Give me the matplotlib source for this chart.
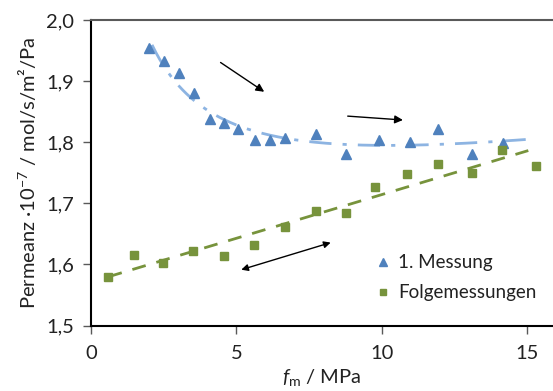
import numpy as np
import matplotlib
matplotlib.use("Agg")
import matplotlib.pyplot as plt
from matplotlib.ticker import FuncFormatter

plt.rcParams['font.family'] = ['Lato', 'DejaVu Sans']
plt.rcParams['mathtext.fontset'] = 'custom'
plt.rcParams['mathtext.it'] = 'Lato:italic'
plt.rcParams['mathtext.rm'] = 'Lato'

# 1. Messung
x1 = [2.00, 2.52, 3.03, 3.53, 4.09, 4.59, 5.06, 5.64, 6.16, 6.66, 7.74, 8.79, 9.90, 10.98, 11.93, 13.12, 14.18]
y1 = [1.954, 1.933, 1.914, 1.881, 1.838, 1.831, 1.822, 1.804, 1.804, 1.807, 1.814, 1.781, 1.804, 1.800, 1.822, 1.780, 1.798]
# Folgemessungen
x2 = [0.60, 1.49, 2.49, 3.52, 4.59, 5.61, 6.66, 7.75, 8.78, 9.79, 10.88, 11.95, 13.12, 14.15, 15.30]
y2 = [1.580, 1.616, 1.602, 1.622, 1.614, 1.632, 1.661, 1.687, 1.684, 1.727, 1.748, 1.765, 1.749, 1.788, 1.761]

labels = ["1. Messung", "Folgemessungen"]
c_blue = "#4F81BD"
c_blue_line = "#8DB4E2"
c_green = "#77933C"

fig = plt.figure(figsize=(5.53, 3.91), dpi=100)
ax = fig.add_axes([91/553, 1-325.5/391, 1-91/553, (325.5-20)/391])

# trendlines (least-squares fits of the data)
lx1 = np.log(np.array(x1))
A = np.vstack([np.ones_like(lx1), lx1, lx1**2]).T
coef, *_ = np.linalg.lstsq(A, np.array(y1), rcond=None)
xt1 = np.linspace(2.1, 15.2, 200)
lt = np.log(xt1)
ax.plot(xt1, coef[0] + coef[1]*lt + coef[2]*lt**2, color=c_blue_line, lw=2,
        dashes=[8, 4, 1.5, 4], zorder=2)
p2 = np.polyfit(x2, y2, 1)
xt2 = np.linspace(0.6, 15.05, 100)
ax.plot(xt2, np.polyval(p2, xt2), color=c_green, lw=2, dashes=[5, 4], zorder=2)

ax.plot(x1, y1, linestyle='none', marker='^', ms=7, color=c_blue, label=labels[0], zorder=3)
ax.plot(x2, y2, linestyle='none', marker='s', ms=5.5, color=c_green, label=labels[1], zorder=3)

# arrows
ap = dict(arrowstyle='-|>', color='black', lw=1, mutation_scale=12)
ax.annotate('', xy=(6.04, 1.880), xytext=(4.38, 1.933), arrowprops=ap)
ax.annotate('', xy=(10.83, 1.836), xytext=(8.74, 1.843), arrowprops=ap)
ax.annotate('', xy=(8.34, 1.637), xytext=(5.08, 1.590),
            arrowprops=dict(arrowstyle='<|-|>', color='black', lw=1, mutation_scale=10))

ax.set_xlim(0, 15.9)
ax.set_ylim(1.5, 2.0)
ax.set_xticks([0, 5, 10, 15])
ax.set_yticks([1.5, 1.6, 1.7, 1.8, 1.9, 2.0])
ax.yaxis.set_major_formatter(FuncFormatter(lambda v, p: f"{v:.1f}".replace('.', ',')))

for s in ['left', 'bottom']:
    ax.spines[s].set_linewidth(1.5)
    ax.spines[s].set_color('black')
ax.spines['right'].set_visible(False)
ax.spines['top'].set_color('#595959')
ax.spines['top'].set_linewidth(1.5)
ax.tick_params(axis='both', direction='out', length=6, width=1, color='#595959',
               labelsize=14.5, labelcolor='#222222')
ax.tick_params(axis='x', pad=8)
ax.tick_params(axis='y', pad=6)

ax.set_ylabel("Permeanz ·10$^{-7}$ / mol/s/m²/Pa", fontsize=14.5, color='#222222', labelpad=6)
ax.set_xlabel(r"$f_\mathrm{m}$ / MPa", fontsize=14.5, color='#222222', labelpad=4)

leg = ax.legend(loc='lower left', bbox_to_anchor=(0.60, 0.055), frameon=False, fontsize=13.5,
                handlelength=0.8, handletextpad=0.4, labelspacing=0.7, borderaxespad=0,
                markerscale=0.8)
for t in leg.get_texts():
    t.set_color('#222222')

fig.savefig("out.png", dpi=100)
